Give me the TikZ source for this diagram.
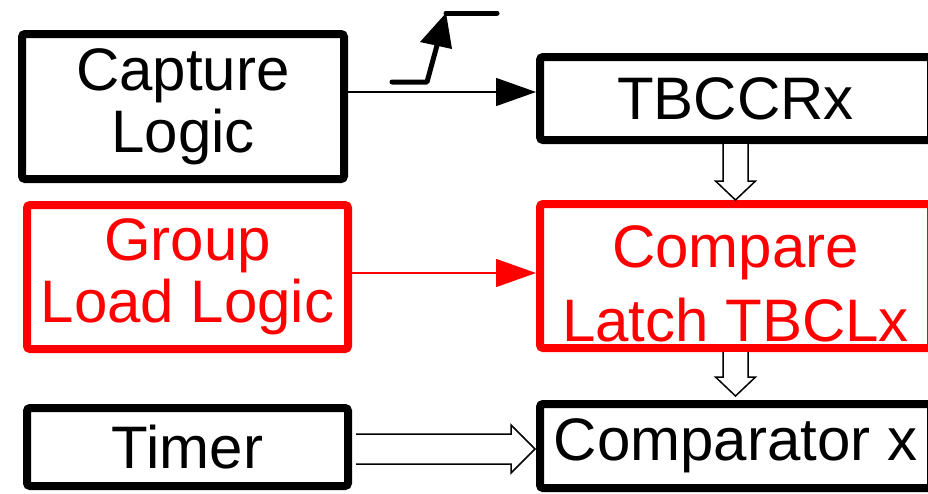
\documentclass[tikz,border=0pt]{standalone}
\usepackage{fontspec}
\setmainfont{Liberation Sans}
\usetikzlibrary{arrows.meta,calc}
\definecolor{pured}{RGB}{255,0,0}
\begin{document}
\begin{tikzpicture}[x=1pt,y=-1pt,
  box/.style={draw, line width=8pt, rounded corners=3pt, inner sep=0pt,
    align=center, font=\fontsize{60}{62}\selectfont},
  redbox/.style={box, draw=pured, text=pured},
  conn/.style={line width=1.5pt, -{Triangle[length=40pt,width=28pt]}},
  hol/.style={draw, line width=1.5pt, fill=white, line join=miter}]
\clip (0,0) rectangle (928,493);
\fill[white] (0,0) rectangle (928,493);
% boxes
\node[box, minimum width=322pt, minimum height=145pt] (cap) at (183,106.5) {Capture\\Logic};
\node[box, minimum width=391pt, minimum height=83pt] (tbc) at (735.5,98.5) {TBCCRx};
\node[redbox, minimum width=321pt, minimum height=144pt] (grp) at (187.5,277) {Group\\Load Logic};
\node[redbox, minimum width=391pt, minimum height=144pt] (cl) at (735.5,276) {\rule{0pt}{58pt}Compare\\[12pt]Latch TBCLx};
\node[box, minimum width=321pt, minimum height=78pt] (tim) at (187.5,447) {Timer};
\node[box, minimum width=391pt, minimum height=84pt] (cmp) at (735.5,446) {Comparator x};
% rows of the connectors
\coordinate (y1) at (0,92);
\coordinate (y2) at (0,273);
\coordinate (y3) at (0,449);
% capture -> TBCCRx
\draw[conn] (cap.east |- y1) -- (tbc.west |- y1);
% rising edge symbol
\draw[line width=5pt, line cap=round, line join=round] (392,82) -- (427,82) -- (439,38);
\fill (446,13) -- (420,42) -- (452,49) -- cycle;
\draw[line width=5pt, line cap=round] (446,13) -- (497,13);
% group load -> compare latch
\draw[conn, draw=pured, fill=pured] (grp.east |- y2) -- (cl.west |- y2);
% TBCCRx => compare latch
\draw[hol] ($(tbc.south)+(-12.5,0)$) -- ($(cl.north)+(-12.5,-19)$) -- ($(cl.north)+(-20,-19)$)
  -- (cl.north) -- ($(cl.north)+(20,-19)$) -- ($(cl.north)+(12.5,-19)$) -- ($(tbc.south)+(12.5,0)$);
% compare latch => comparator
\draw[hol] ($(cl.south)+(-12.5,0)$) -- ($(cmp.north)+(-12.5,-23)$) -- ($(cmp.north)+(-20,-23)$)
  -- ($(cmp.north)+(0,-4)$) -- ($(cmp.north)+(20,-23)$) -- ($(cmp.north)+(12.5,-23)$) -- ($(cl.south)+(12.5,0)$);
% timer => comparator
\draw[hol] ($(tim.east |- y3)+(4,-15)$) -- ($(cmp.west |- y3)+(-25,-15)$) -- ($(cmp.west |- y3)+(-25,-24)$)
  -- ($(cmp.west |- y3)+(-1,0)$) -- ($(cmp.west |- y3)+(-25,24)$) -- ($(cmp.west |- y3)+(-25,15)$) -- ($(tim.east |- y3)+(4,15)$);
\end{tikzpicture}
\end{document}
